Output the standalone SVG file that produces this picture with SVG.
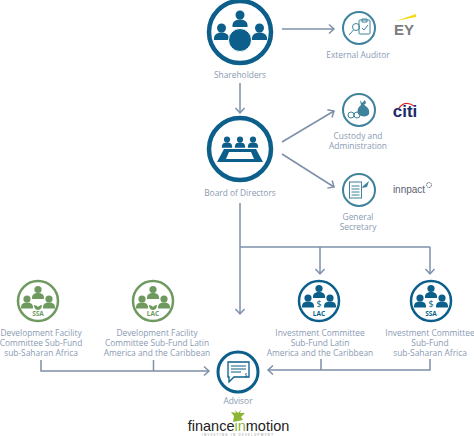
<svg xmlns="http://www.w3.org/2000/svg" width="474" height="436" viewBox="0 0 474 436">
<style>
text{font-family:"Open Sans","Noto Sans","DejaVu Sans",sans-serif;font-size:8.400px;fill:#8a9ab3;text-anchor:middle}
.c{fill:none;stroke:#7d8fa9;stroke-width:1.5}
.big{fill:#fff;stroke:#0b5f8a;stroke-width:4.5}
.mid{fill:#fff;stroke:#0b5f8a;stroke-width:3}
.sm{fill:#fff;stroke:#3f829c;stroke-width:2}
.gr{fill:#fff;stroke:#6f9a5f;stroke-width:2.5}
.b{fill:#0b5f8a}.g{fill:#6f9a5f}.t{fill:#3f829c}
.ol{fill:none;stroke:#3f829c;stroke-width:1}
.lb{font-size:6.500px;font-weight:700}
</style>
<defs>
<marker id="a" markerUnits="userSpaceOnUse" markerWidth="10" markerHeight="12" refX="6.5" refY="6" orient="auto"><path d="M1.5 1.5 6.5 6 1.5 10.5" fill="none" stroke="#7d8fa9" stroke-width="1.5"/></marker>
<g id="p"><circle cx="0" cy="-4" r="3.6"/><path d="M-6 5.5C-6.5 1-3.500-.5 0-.5S6.500 1 6 5.500Z"/></g>
</defs>
<g id="connectors">
<path class="c" marker-end="url(#a)" d="M282 29H334"/>
<path class="c" marker-end="url(#a)" d="M240 83V113"/>
<path class="c" marker-end="url(#a)" d="M282 142 334 111"/>
<path class="c" marker-end="url(#a)" d="M282 154 334 187"/>
<path class="c" marker-end="url(#a)" d="M240 203V314"/>
<path class="c" d="M240 247H430"/>
<path class="c" marker-end="url(#a)" d="M320 247V274"/>
<path class="c" marker-end="url(#a)" d="M430 247V274"/>
<path class="c" marker-end="url(#a)" d="M41 360V371H209"/>
<path class="c" d="M153.500 360V371"/>
<path class="c" marker-end="url(#a)" d="M430 359V370H268"/>
<path class="c" d="M321 359V370"/>
</g>
<g id="shareholders">
<circle class="big" cx="240" cy="32" r="31"/>
<g class="b"><use href="#p" transform="translate(240 20) scale(1.25)"/><use href="#p" transform="translate(221.500 33) scale(1.25)"/><use href="#p" transform="translate(259.500 33) scale(1.25)"/></g>
<circle cx="240" cy="40" r="11.500" class="b" stroke="#fff" stroke-width="1"/>
<text x="240" y="78">Shareholders</text>
</g>
<g id="auditor">
<circle class="sm" cx="359" cy="28" r="16"/>
<rect class="ol" x="359" y="20" width="11" height="14" rx="1"/>
<path class="ol" d="M362 19h5v3h-5ZM362 28l2 2 4-5"/>
<circle class="ol" cx="356" cy="27" r="3.500"/><path class="ol" d="M353.500 30 349 35"/>
<text x="358" y="58">External Auditor</text>
</g>
<g id="ey">
<path d="M396 21 416 14V17Z" fill="#f5d915"/>
<text x="404" y="35" style="font-family:'Liberation Sans',sans-serif;font-size:15px;font-weight:700;fill:#7a7c80">EY</text>
</g>
<g id="board">
<circle class="big" cx="240" cy="149" r="31"/>
<g class="b"><use href="#p" transform="translate(227 143) scale(.85)"/><use href="#p" transform="translate(240 143) scale(.85)"/><use href="#p" transform="translate(253 143) scale(.85)"/></g>
<path class="b" fill-rule="evenodd" d="M224 149H256L263 162H217ZM229 152 226 159H254L251 152Z"/>
<text x="240" y="196">Board of Directors</text>
</g>
<g id="custody">
<circle class="sm" cx="359" cy="110" r="16"/>
<path class="t" d="M360 100l2 3 3-3 1 3-2 2c4 2 6 5 5 9-1 3-7 3-10 1-3-3-1-8 2-10Z"/>
<circle class="ol" cx="351" cy="115" r="3"/><circle class="ol" cx="357" cy="115" r="3"/>
<text x="358" y="139">Custody and</text><text x="358" y="149">Administration</text>
</g>
<g id="citi">
<path d="M399 108Q405 100 414 106" fill="none" stroke="#d8262c" stroke-width="1.300"/>
<text x="405" y="117" style="font-family:'Liberation Sans',sans-serif;font-size:17px;font-weight:700;fill:#1b2a6b">citi</text>
</g>
<g id="secretary">
<circle class="sm" cx="359" cy="190" r="16"/>
<rect class="ol" x="349.500" y="182" width="12" height="16"/>
<path class="ol" d="M351.500 186h8M351.500 189h8M351.500 192h8M351.500 195h8"/>
<path class="t" d="M363 186 369 181 367 187 362 188Z"/>
<text x="358" y="220">General</text><text x="358" y="230">Secretary</text>
</g>
<g id="innpact">
<text x="409" y="193" style="font-family:'Liberation Sans',sans-serif;font-size:10px;fill:#5a6270">innpact</text>
<circle cx="429" cy="185" r="2.500" fill="none" stroke="#5a6270" stroke-dasharray="1.500 .7"/>
</g>
<g id="dfc-ssa">
<circle class="gr" cx="38" cy="301" r="20"/>
<g class="g"><use href="#p" transform="translate(38 293.500)"/><use href="#p" transform="translate(27 303)"/><use href="#p" transform="translate(49 303)"/></g>
<path class="g" d="M38 310c-3 0-4-3-4-5 2 0 3 1 4 2 1-1 2-2 4-2 0 2-1 5-4 5Z"/>
<text class="lb" x="38" y="316" style="fill:#6f9a5f">SSA</text>
<text x="41" y="336">Development Facility</text><text x="41" y="346">Committee Sub-Fund</text><text x="41" y="356">sub-Saharan Africa</text>
</g>
<g id="dfc-lac">
<circle class="gr" cx="153" cy="301" r="20"/>
<g class="g"><use href="#p" transform="translate(153 293.500)"/><use href="#p" transform="translate(142 303)"/><use href="#p" transform="translate(164 303)"/></g>
<path class="g" d="M153 310c-3 0-4-3-4-5 2 0 3 1 4 2 1-1 2-2 4-2 0 2-1 5-4 5Z"/>
<text class="lb" x="153" y="316" style="fill:#6f9a5f">LAC</text>
<text x="157" y="336">Development Facility</text><text x="157" y="346">Committee Sub-Fund Latin</text><text x="157" y="356">America and the Caribbean</text>
</g>
<g id="ic-lac">
<circle class="gr" cx="319" cy="301" r="20" style="stroke:#0b5f8a"/>
<g class="b"><use href="#p" transform="translate(319 292.500)"/><use href="#p" transform="translate(308 302)"/><use href="#p" transform="translate(330 302)"/></g>
<text x="319" y="307" style="font-size:9px;fill:#0b5f8a">$</text>
<text class="lb" x="319" y="316" style="fill:#0b5f8a">LAC</text>
<text x="320" y="336">Investment Committee</text><text x="320" y="346">Sub-Fund Latin</text><text x="320" y="356">America and the Caribbean</text>
</g>
<g id="ic-ssa">
<circle class="gr" cx="431" cy="301" r="20" style="stroke:#0b5f8a"/>
<g class="b"><use href="#p" transform="translate(431 292.500)"/><use href="#p" transform="translate(420 302)"/><use href="#p" transform="translate(442 302)"/></g>
<text x="431" y="307" style="font-size:9px;fill:#0b5f8a">$</text>
<text class="lb" x="431" y="316" style="fill:#0b5f8a">SSA</text>
<text x="430" y="336">Investment Committee</text><text x="430" y="346">Sub-Fund</text><text x="430" y="356">sub-Saharan Africa</text>
</g>
<g id="advisor">
<circle class="mid" cx="238" cy="372" r="20"/>
<path fill="none" stroke="#0b5f8a" stroke-width="1.300" d="M228 362H249V377H234L229 382V377H228Z"/>
<path fill="none" stroke="#0b5f8a" d="M231 366H246M231 369H246M231 372H241"/>
<text x="246" y="377" style="font-size:5px;fill:#0b5f8a">$</text>
<text x="238" y="404">Advisor</text>
</g>
<g id="logo">
<path d="M233 422 234 416 231 412 236 413 235 410 238 413 241 410 240 413 245 413 241 417 243 420 238 421Z" fill="#8cb435"/>
<text x="238.500" y="431" style="font-family:'Liberation Sans',sans-serif;font-size:14.500px;fill:#222">finance<tspan fill="#8cb435">in</tspan>motion</text>
<text x="238" y="435.500" style="font-size:3px;letter-spacing:1.300px;fill:#888">INVESTING IN DEVELOPMENT</text>
</g>
</svg>
